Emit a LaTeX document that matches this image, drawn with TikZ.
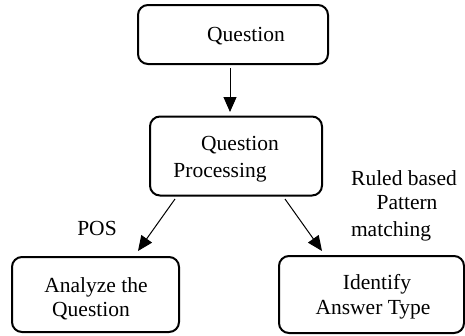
\documentclass[tikz,border=0pt]{standalone}
\usepackage{fontspec}
\setmainfont{Liberation Serif}
\usetikzlibrary{arrows.meta}
\begin{document}
\begin{tikzpicture}[x=1pt,y=-1pt,
  box/.style={draw,line width=2pt,rounded corners=10pt},
  txt/.style={inner sep=0pt,font=\fontsize{21.5}{26}\selectfont,anchor=base},
  arr/.style={line width=1pt,-{Triangle[length=15pt,width=13pt]}}]
\useasboundingbox (0,0) rectangle (465,335);
\node[box,minimum width=190pt,minimum height=59pt] (q) at (233,34.5) {};
\node[box,minimum width=172pt,minimum height=79pt] (qp) at (236,156) {};
\node[box,minimum width=167pt,minimum height=75pt] (aq) at (95.5,294.5) {};
\node[box,minimum width=185pt,minimum height=77pt] (ia) at (371.5,294.5) {};
\node[txt] (t1) at (246,41) {Question};
\node[txt] (t2) at (240,150) {Question};
\node[txt] (t3) at (220,177) {Processing};
\node[txt] (t4) at (96,292) {Analyze the};
\node[txt] (t5) at (91,316) {Question};
\node[txt] (t6) at (377,289) {Identify};
\node[txt] (t7) at (373,314) {Answer Type};
\node[txt] (l1) at (97,235) {POS};
\node[txt] (l2) at (404,185) {Ruled based};
\node[txt] (l3) at (407,209) {Pattern};
\node[txt] (l4) at (391,236) {matching};
\coordinate (a1s) at (230,68);
\coordinate (a1e) at (230,112);
\coordinate (a2s) at (175,199);
\coordinate (a2e) at (138,251);
\coordinate (a3s) at (285,199);
\coordinate (a3e) at (322,251);
\draw[arr] (a1s) -- (a1e);
\draw[arr] (a2s) -- (a2e);
\draw[arr] (a3s) -- (a3e);
\end{tikzpicture}
\end{document}
